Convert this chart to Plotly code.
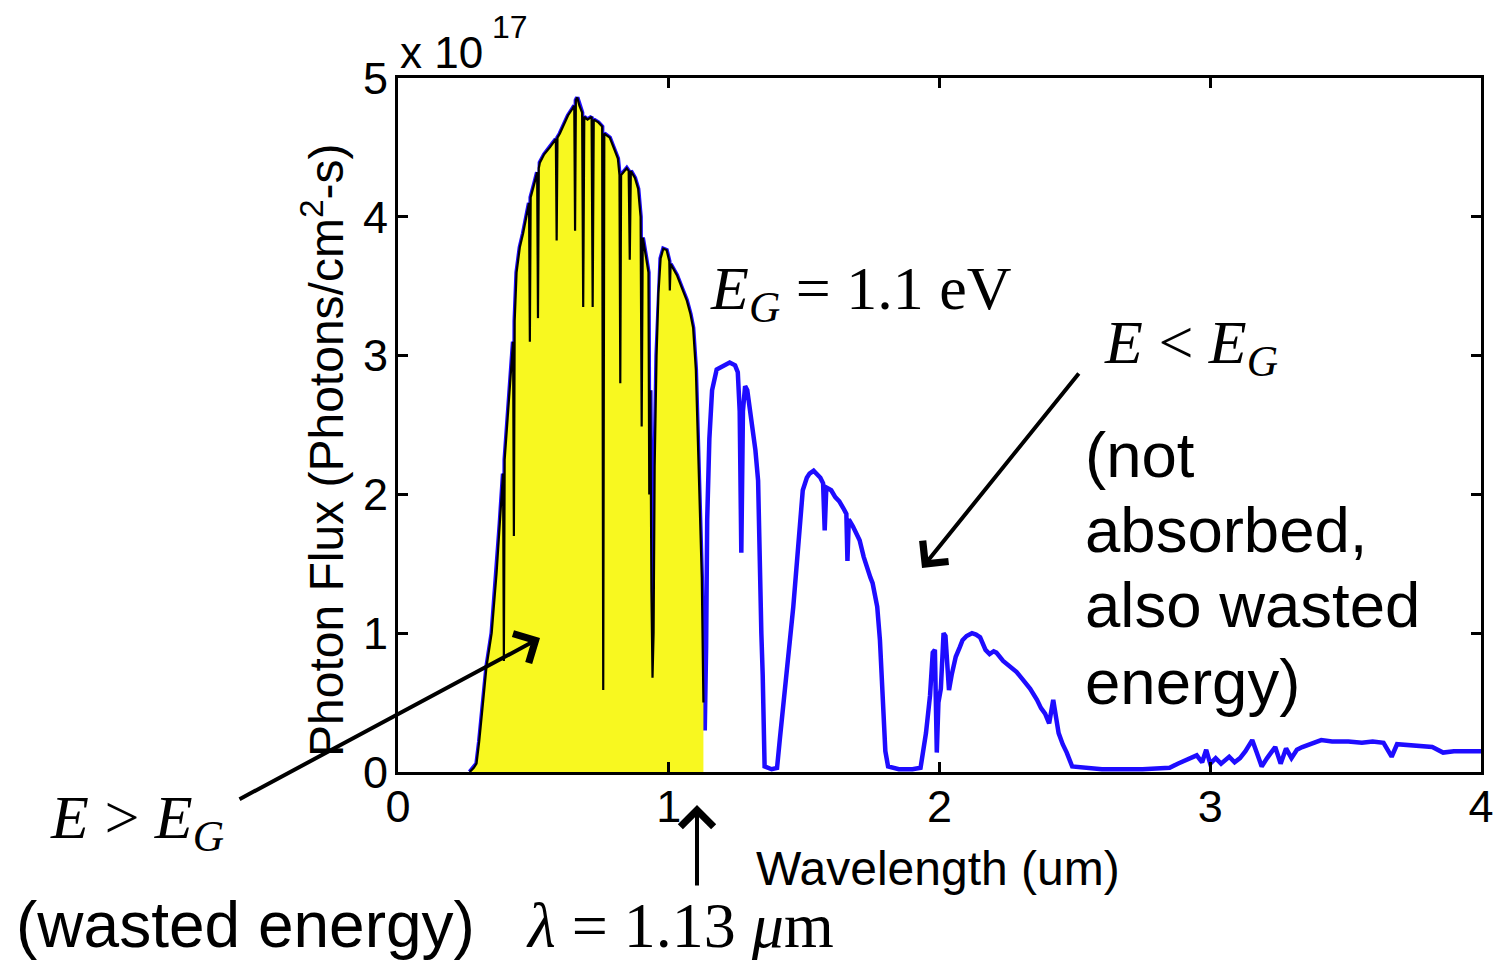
import numpy as np
import plotly.graph_objects as go

# ---- data ----
wavelength_um = [
    0.265, 0.28, 0.29, 0.30, 0.315, 0.327, 0.346, 0.364, 0.376, 0.388, 0.391, 0.394,
    0.405, 0.413, 0.425, 0.428, 0.431, 0.438, 0.450, 0.462, 0.475, 0.484, 0.487, 0.490,
    0.505, 0.514, 0.517, 0.520, 0.524, 0.540, 0.561, 0.583, 0.586, 0.589, 0.598, 0.612,
    0.628, 0.645, 0.651, 0.654, 0.657, 0.662, 0.670, 0.680, 0.684, 0.688, 0.700, 0.715,
    0.719, 0.723, 0.740, 0.754, 0.758, 0.762, 0.782, 0.800, 0.812, 0.818, 0.821, 0.824,
    0.835, 0.845, 0.852, 0.856, 0.860, 0.875, 0.887, 0.896, 0.900, 0.904, 0.915, 0.925,
    0.928, 0.932, 0.936, 0.940, 0.944, 0.948, 0.955, 0.962, 0.970, 0.980, 0.992, 1.002,
    1.004, 1.007, 1.030, 1.050, 1.066, 1.080, 1.090, 1.100, 1.107, 1.115, 1.122, 1.128,
    1.133, 1.138, 1.142, 1.150, 1.160, 1.177, 1.200, 1.225, 1.245, 1.255, 1.262, 1.268,
    1.274, 1.282, 1.290, 1.300, 1.310, 1.320, 1.330, 1.336, 1.342, 1.347, 1.354, 1.380,
    1.400, 1.410, 1.425, 1.435, 1.450, 1.460, 1.470, 1.480, 1.495, 1.510, 1.520, 1.535,
    1.545, 1.560, 1.570, 1.576, 1.582, 1.600, 1.615, 1.630, 1.645, 1.656, 1.660, 1.665,
    1.680, 1.695, 1.705, 1.720, 1.730, 1.745, 1.753, 1.765, 1.770, 1.780, 1.790, 1.800,
    1.810, 1.850, 1.900, 1.930, 1.950, 1.965, 1.975, 1.983, 1.990, 1.996, 2.005, 2.015,
    2.022, 2.035, 2.045, 2.060, 2.075, 2.085, 2.100, 2.120, 2.135, 2.150, 2.170, 2.185,
    2.200, 2.210, 2.235, 2.260, 2.285, 2.310, 2.335, 2.360, 2.375, 2.390, 2.405, 2.420,
    2.430, 2.440, 2.455, 2.470, 2.490, 2.600, 2.750, 2.850, 2.880, 2.920, 2.950, 2.970,
    2.985, 3.000, 3.020, 3.040, 3.070, 3.090, 3.110, 3.130, 3.155, 3.170, 3.190, 3.210,
    3.240, 3.260, 3.280, 3.300, 3.320, 3.340, 3.370, 3.410, 3.450, 3.510, 3.560, 3.600,
    3.640, 3.670, 3.690, 3.760, 3.820, 3.860, 3.900, 4.000,
]
flux_1e17 = [
    0.00, 0.03, 0.06, 0.22, 0.52, 0.76, 1.00, 1.43, 1.79, 2.15, 0.80, 2.25,
    2.55, 2.75, 3.10, 1.70, 3.25, 3.60, 3.78, 3.88, 4.00, 4.10, 3.10, 4.14,
    4.25, 4.32, 3.27, 4.35, 4.39, 4.45, 4.50, 4.56, 3.83, 4.57, 4.60, 4.66,
    4.73, 4.78, 4.80, 3.90, 4.84, 4.86, 4.80, 4.75, 3.35, 4.72, 4.70, 4.72,
    3.35, 4.70, 4.68, 4.65, 0.59, 4.60, 4.57, 4.48, 4.42, 4.30, 2.80, 4.30,
    4.33, 4.35, 4.33, 3.69, 4.33, 4.28, 4.20, 4.00, 2.49, 3.85, 3.72, 3.60,
    2.00, 2.75, 1.30, 0.68, 1.00, 2.20, 3.00, 3.45, 3.70, 3.77, 3.76, 3.68,
    3.47, 3.66, 3.58, 3.48, 3.40, 3.30, 3.20, 2.90, 2.40, 1.90, 1.40, 0.50,
    0.30, 0.90, 1.82, 2.40, 2.75, 2.90, 2.92, 2.95, 2.93, 2.88, 2.60, 1.58,
    2.60, 2.78, 2.75, 2.62, 2.50, 2.32, 2.10, 1.43, 1.00, 0.70, 0.04, 0.02,
    0.03, 0.23, 0.50, 0.71, 0.95, 1.19, 1.43, 1.70, 2.03, 2.12, 2.15, 2.17,
    2.15, 2.12, 2.08, 1.74, 2.05, 2.03, 1.98, 1.95, 1.90, 1.86, 1.52, 1.82,
    1.77, 1.70, 1.67, 1.55, 1.48, 1.40, 1.36, 1.25, 1.19, 0.95, 0.47, 0.15,
    0.04, 0.02, 0.02, 0.03, 0.28, 0.55, 0.86, 0.88, 0.14, 0.50, 0.60, 1.00,
    0.98, 0.59, 0.70, 0.83, 0.90, 0.95, 0.98, 1.00, 0.99, 0.97, 0.88, 0.85,
    0.87, 0.86, 0.80, 0.76, 0.72, 0.66, 0.60, 0.52, 0.46, 0.42, 0.35, 0.52,
    0.40, 0.28, 0.20, 0.14, 0.04, 0.02, 0.02, 0.03, 0.06, 0.09, 0.12, 0.07,
    0.16, 0.06, 0.10, 0.06, 0.11, 0.07, 0.10, 0.15, 0.23, 0.15, 0.04, 0.10,
    0.18, 0.06, 0.17, 0.10, 0.16, 0.18, 0.20, 0.23, 0.22, 0.22, 0.21, 0.22,
    0.21, 0.11, 0.20, 0.19, 0.18, 0.14, 0.15, 0.15,
]
cutoff_um = 1.13          # lambda = 1.13 um  (E_G = 1.1 eV)
x_ticks = [0, 1, 2, 3, 4]
y_ticks = [0, 1, 2, 3, 4, 5]

BLUE = "#1e0cff"
YELLOW = "#f8f820"
SANS = "Liberation Sans, Arial, sans-serif"
SERIF = "Liberation Serif, Times New Roman, serif"

wl = np.array(wavelength_um)
fx = np.array(flux_1e17)
mask = wl <= cutoff_um

fig = go.Figure()
fig.add_trace(go.Scatter(x=wl, y=fx, mode="lines",
                         line=dict(color=BLUE, width=4.5), hoverinfo="skip"))
fig.add_trace(go.Scatter(x=wl[mask], y=fx[mask], mode="lines", fill="tozeroy",
                         fillcolor=YELLOW, line=dict(color="black", width=2.2),
                         hoverinfo="skip"))

# plot area: x 398..1481, y 78..772
FW, FH = 1493, 960
L, R, T, B = 398, 1481, 78, 772
W, H = R - L, B - T


def px(x):
    return (x - L) / W


def py(y):
    return (B - y) / H


axis_common = dict(showline=True, linewidth=3, linecolor="black", mirror="ticks",
                   ticks="inside", ticklen=10, tickwidth=3, tickcolor="black",
                   showgrid=False, zeroline=False, automargin=False,
                   ticklabeloverflow="allow",
                   tickfont=dict(family=SANS, size=45, color="black"))

fig.update_layout(
    width=FW, height=FH, autosize=False,
    margin=dict(l=L, r=FW - R, t=T, b=FH - B, pad=0, autoexpand=False),
    plot_bgcolor="white", paper_bgcolor="white",
    showlegend=False,
    xaxis=dict(range=[0, 4], tickvals=x_ticks, ticktext=[str(v) for v in x_ticks],
               ticklabelstandoff=-7, **axis_common),
    yaxis=dict(range=[0, 5], tickvals=y_ticks, ticktext=[str(v) for v in y_ticks],
               ticklabelstandoff=-2, **axis_common),
)

ann = []


def text(s, xpix, ypix, size, family, xanchor="left", angle=0):
    ann.append(dict(text=s, x=px(xpix), y=py(ypix), xref="paper", yref="paper",
                    xanchor=xanchor, yanchor="middle", showarrow=False,
                    textangle=angle,
                    font=dict(family=family, size=size, color="black")))


def arrow(hx, hy, tx, ty):
    ann.append(dict(text="", x=px(hx), y=py(hy), xref="paper", yref="paper",
                    ax=tx - hx, ay=ty - hy, showarrow=True, arrowhead=4,
                    arrowsize=1.6, arrowwidth=4, arrowcolor="black", standoff=0))


text("<i>E</i><sub><i>G</i></sub> = 1.1 eV", 708, 292, 62, SERIF)
text("<i>E</i> &lt; <i>E</i><sub><i>G</i></sub>", 1102, 346, 62, SERIF)
text("(not", 1083, 455, 63.5, SANS)
text("absorbed,", 1083, 530, 63.5, SANS)
text("also wasted", 1083, 605, 63.5, SANS)
text("energy)", 1083, 682, 63.5, SANS)
text("<i>E</i> &gt; <i>E</i><sub><i>G</i></sub>", 48, 821, 62, SERIF)
text("(wasted energy)", 14, 925, 64, SANS)
text("<i>λ</i> = 1.13 <i>μ</i>m", 524, 925, 64, SERIF)
text("Wavelength (um)", 754, 868, 48, SANS)
text("Photon Flux (Photons/cm<sup>2</sup>-s)", 323, 450, 48, SANS,
     xanchor="center", angle=-90)
text("x 10", 398, 52, 44, SANS)
text("17", 490, 27, 32, SANS)

arrow(922, 568, 1080, 372)
arrow(540, 638, 238, 800)
arrow(697, 805, 697, 887)

fig.update_layout(annotations=ann)
fig.write_html(
    "out.html",
    config={"responsive": False, "displayModeBar": False},
    post_script="document.body.style.margin='0';document.body.style.overflow='hidden';",
)
